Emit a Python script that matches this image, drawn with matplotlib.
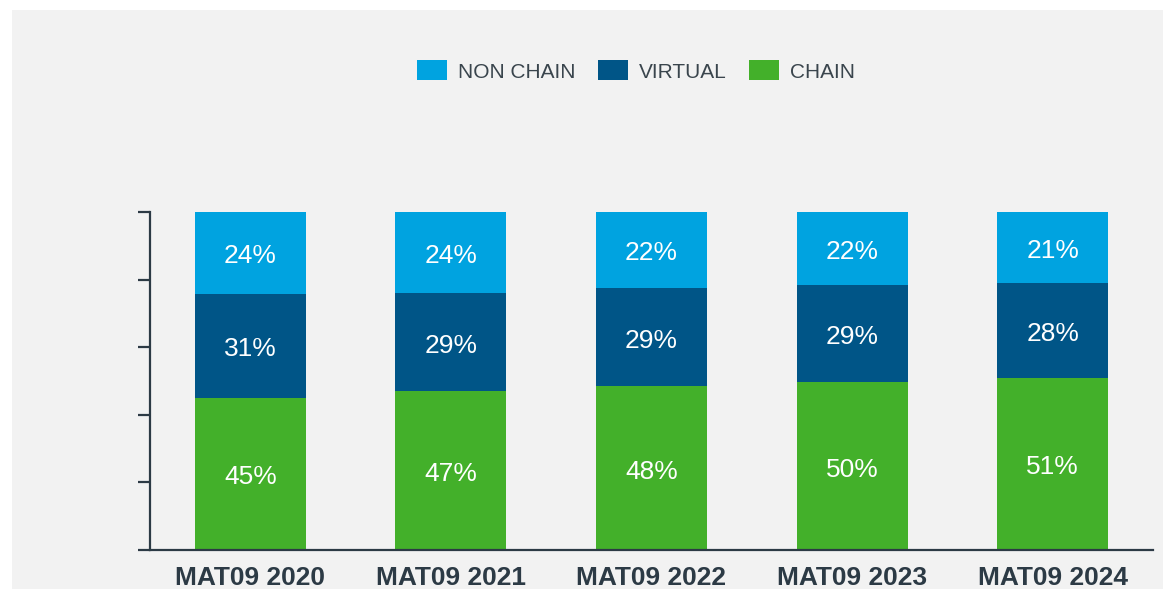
import matplotlib.pyplot as plt
from matplotlib.patches import Rectangle
import numpy as np

plt.rcParams['font.family'] = ['Liberation Sans', 'DejaVu Sans']

years = ['MAT09 2020', 'MAT09 2021', 'MAT09 2022', 'MAT09 2023', 'MAT09 2024']
chain = [45.0, 47.0, 48.4, 49.6, 50.9]
virtual = [30.8, 28.9, 29.2, 28.8, 28.1]
non_chain = [24.2, 24.1, 22.4, 21.6, 21.0]

c_non = '#00a3e0'
c_virt = '#005587'
c_chain = '#43b02a'
dark = '#2c3a45'
bg = '#f2f2f2'

fig = plt.figure(figsize=(11.63, 5.89), dpi=100, facecolor='white')
# grey panel behind the chart
fig.patches.append(Rectangle((12/1163, 0), 1, 1 - 10/589, transform=fig.transFigure,
                             facecolor=bg, edgecolor='none', zorder=-1))

ax = fig.add_axes([150/1163, 39/589, 1003/1163, 338/589])
ax.patch.set_alpha(0)

x = np.arange(len(years))
w = 0.554
chain_a = np.array(chain)
virt_a = np.array(virtual)
non_a = np.array(non_chain)

b1 = ax.bar(x, chain_a, w, color=c_chain, label='CHAIN')
b2 = ax.bar(x, virt_a, w, bottom=chain_a, color=c_virt, label='VIRTUAL')
b3 = ax.bar(x, non_a, w, bottom=chain_a + virt_a, color=c_non, label='NON CHAIN')

# value labels in the middle of each segment
for vals, bottoms in [(chain_a, 0 * chain_a), (virt_a, chain_a), (non_a, chain_a + virt_a)]:
    for i, v in enumerate(vals):
        ax.annotate(f'{v:.0f}%', (x[i], bottoms[i] + v / 2), xytext=(0, -2.5),
                    textcoords='offset points', ha='center', va='center',
                    color='white', fontsize=19)

ax.set_xlim(-0.5, 4.5)
ax.set_ylim(0, 100)
ax.set_yticks(np.arange(0, 101, 20))
ax.set_yticklabels([])
ax.set_xticks(x)
ax.set_xticklabels(years, fontsize=19, fontweight='bold', color=dark)
ax.tick_params(axis='x', length=0, pad=11.5)
ax.tick_params(axis='y', length=8.6, width=1.6, color=dark, direction='out')
for s in ['top', 'right']:
    ax.spines[s].set_visible(False)
for s in ['left', 'bottom']:
    ax.spines[s].set_color(dark)
    ax.spines[s].set_linewidth(1.6)

fig.legend([b3, b2, b1], ['NON CHAIN', 'VIRTUAL', 'CHAIN'], loc='center',
           bbox_to_anchor=(636/1163, 1 - 71/589), ncol=3, frameon=False,
           fontsize=15, handlelength=1.45, handleheight=1.1, handletextpad=0.55,
           columnspacing=1.05, labelcolor='#3a454d')

fig.savefig('out.png', dpi=100, facecolor=fig.get_facecolor())
